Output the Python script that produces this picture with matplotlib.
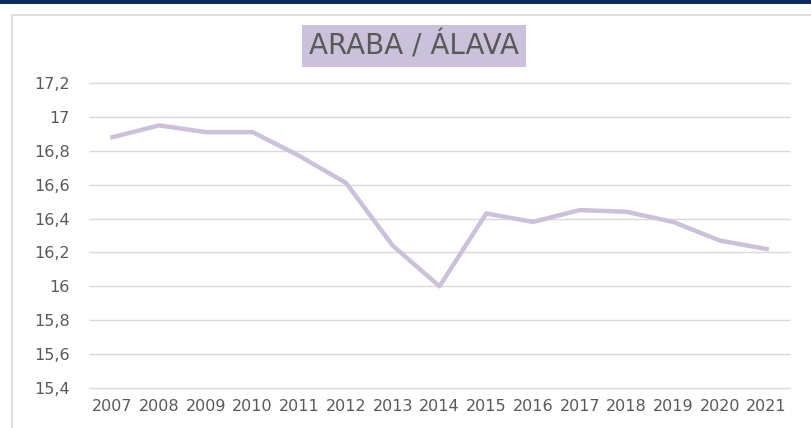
import matplotlib.pyplot as plt
from matplotlib.patches import Rectangle

years = ["2007", "2008", "2009", "2010", "2011", "2012", "2013", "2014",
         "2015", "2016", "2017", "2018", "2019", "2020", "2021"]
values = [16.88, 16.95, 16.91, 16.91, 16.77, 16.61, 16.24, 16.00,
          16.43, 16.38, 16.45, 16.44, 16.38, 16.27, 16.22]
yticks = [15.4, 15.6, 15.8, 16.0, 16.2, 16.4, 16.6, 16.8, 17.0, 17.2]
ylabels = ["15,4", "15,6", "15,8", "16", "16,2", "16,4", "16,6", "16,8", "17", "17,2"]

W, H = 811, 428
fig = plt.figure(figsize=(W / 100, H / 100), dpi=100)
fig.patch.set_facecolor("white")

# top navy band and chart frame
fig.patches.append(Rectangle((0, 1 - 4 / H), 1, 4 / H, transform=fig.transFigure,
                             facecolor="#0c2a62", edgecolor="none"))
fig.patches.append(Rectangle((12 / W, -0.05), 1.2, 1 - 15 / H + 0.05,
                             transform=fig.transFigure, facecolor="none",
                             edgecolor="#d9d9d9", linewidth=1.2))

ax = fig.add_axes([89 / W, 1 - 388 / H, (790 - 89) / W, (388 - 83) / H])
x = list(range(len(years)))
ax.hlines(yticks, -0.5, len(years) - 0.5, color="#d9d9d9", linewidth=1, clip_on=False, zorder=1)
ax.plot(x, values, color="#ccc1da", linewidth=3.2, zorder=2)
ax.set_xlim(-0.5, len(years) - 0.5)
ax.set_ylim(15.4, 17.2)
ax.set_yticks(yticks)
ax.set_yticklabels(ylabels)
ax.set_xticks(x)
ax.set_xticklabels(years)
for s in ax.spines.values():
    s.set_visible(False)
ax.tick_params(axis="both", length=0, colors="#595959", labelsize=11.5)
ax.tick_params(axis="y", pad=14)
ax.tick_params(axis="x", pad=8)

fig.text(414 / W, 1 - 46 / H, "ARABA / ÁLAVA", ha="center", va="center",
         fontsize=20, color="#595959",
         bbox=dict(boxstyle="square,pad=0.25", facecolor="#ccc1da", edgecolor="none"))

fig.savefig("out.png", dpi=100)
